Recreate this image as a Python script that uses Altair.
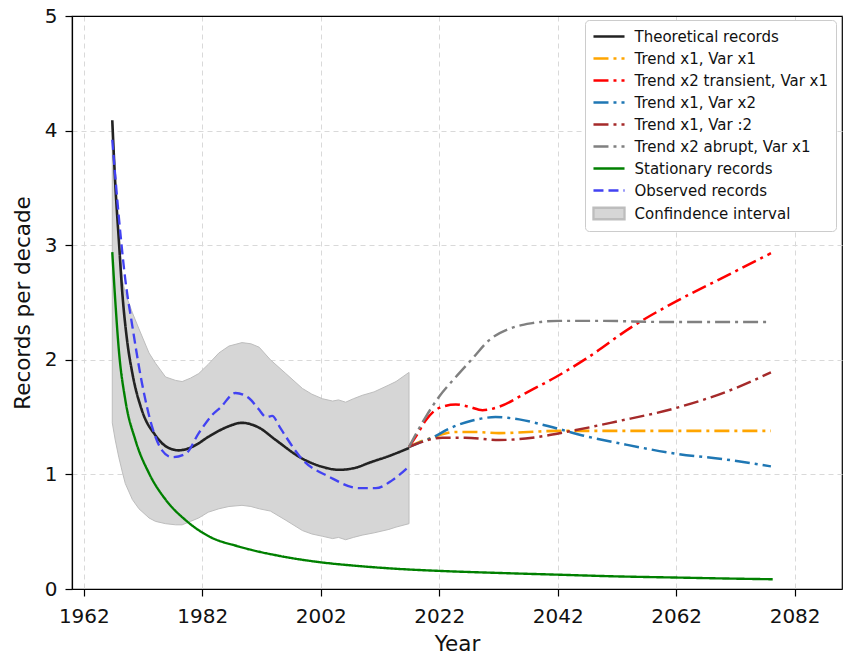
import altair as alt
import pandas as pd

# ---------------- data ----------------
theo_year = [1966.8, 1967.3, 1967.9, 1968.5, 1969.3, 1970.2, 1971.8, 1974.1, 1976.0, 1978.0,
             1980.3, 1983.1, 1986.0, 1988.7, 1991.5, 1994.4, 1998.8, 2002.0, 2005.1, 2008.0,
             2010.1, 2013.5, 2016.9]
theo_val = [4.09, 3.54, 3.05, 2.58, 2.17, 1.88, 1.56, 1.34, 1.24, 1.21,
            1.24, 1.33, 1.41, 1.45, 1.41, 1.30, 1.14, 1.07, 1.04, 1.06,
            1.10, 1.16, 1.23]

obs_year = [1966.8, 1967.9, 1969.0, 1970.2, 1971.8, 1973.5, 1975.2, 1976.9, 1979.2, 1981.4,
            1983.7, 1985.0, 1987.6, 1990.0, 1991.5, 1992.8, 1993.8, 1995.0, 1996.1, 1998.9,
            2003.4, 2008.5, 2011.3, 2014.1, 2016.9]
obs_val = [3.92, 3.25, 2.70, 2.29, 1.80, 1.42, 1.21, 1.15, 1.18, 1.36,
           1.52, 1.58, 1.71, 1.66, 1.57, 1.50, 1.51, 1.42, 1.33, 1.13,
           0.98, 0.88, 0.88, 0.95, 1.07]

ci_year = [1966.8, 1967.3, 1967.9, 1968.5, 1969.0, 1970.2, 1971.3, 1973.0, 1974.1, 1975.8,
           1977.5, 1978.6, 1980.0, 1981.4, 1983.0, 1984.8, 1986.5, 1988.7, 1990.2, 1991.6,
           1993.5, 1996.1, 1998.9, 2000.5, 2002.3, 2004.0, 2005.0, 2006.2, 2007.5, 2009.0,
           2011.0, 2013.5, 2014.7, 2016.9]
ci_upper = [4.05, 3.60, 3.10, 2.70, 2.58, 2.41, 2.27, 2.06, 1.97, 1.85,
            1.82, 1.81, 1.84, 1.88, 1.96, 2.06, 2.12, 2.15, 2.14, 2.11,
            2.00, 1.88, 1.75, 1.70, 1.66, 1.64, 1.65, 1.63, 1.66, 1.69,
            1.72, 1.78, 1.81, 1.89]
ci_lower = [1.45, 1.30, 1.15, 1.02, 0.92, 0.78, 0.70, 0.62, 0.59, 0.57,
            0.56, 0.56, 0.59, 0.62, 0.67, 0.70, 0.72, 0.73, 0.72, 0.70,
            0.68, 0.60, 0.51, 0.48, 0.46, 0.44, 0.45, 0.43, 0.45, 0.47,
            0.49, 0.52, 0.54, 0.57]

stat_year = [1966.8, 1967.3, 1967.9, 1969.0, 1970.7, 1973.0, 1975.8, 1979.2, 1983.1, 1988.2,
             1994.9, 2001.7, 2008.5, 2015.2, 2022.0, 2032.1, 2042.0, 2052.0, 2062.0, 2070.0,
             2078.3]
stat_val = [2.94, 2.52, 2.09, 1.65, 1.30, 1.01, 0.78, 0.60, 0.46, 0.37,
            0.29, 0.235, 0.20, 0.175, 0.158, 0.14, 0.125, 0.11, 0.10, 0.092,
            0.085]

t1v1_year = [2016.9, 2018.5, 2020.8, 2022.5, 2024.8, 2028.0, 2032.1, 2037.0, 2042.2, 2050.0,
             2060.0, 2070.0, 2078.0]
t1v1_val = [1.24, 1.28, 1.32, 1.35, 1.37, 1.37, 1.36, 1.37, 1.38, 1.38,
            1.38, 1.38, 1.38]

t2tr_year = [2016.9, 2018.3, 2019.7, 2022.0, 2024.8, 2027.0, 2029.3, 2032.1, 2036.6, 2041.7,
             2046.8, 2054.6, 2062.0, 2070.4, 2078.0]
t2tr_val = [1.24, 1.35, 1.47, 1.58, 1.61, 1.59, 1.56, 1.59, 1.71, 1.85,
            2.01, 2.29, 2.51, 2.73, 2.93]

t1v2_year = [2016.9, 2018.8, 2020.8, 2023.7, 2027.6, 2031.5, 2035.5, 2040.5, 2046.2, 2053.5,
             2062.0, 2070.4, 2078.0]
t1v2_val = [1.24, 1.28, 1.32, 1.40, 1.47, 1.50, 1.48, 1.42, 1.34, 1.26,
            1.18, 1.13, 1.07]

t1vh_year = [2016.9, 2019.5, 2022.5, 2026.4, 2032.1, 2037.7, 2043.4, 2051.8, 2062.0, 2070.4,
             2078.0]
t1vh_val = [1.24, 1.29, 1.32, 1.32, 1.30, 1.32, 1.37, 1.46, 1.58, 1.72,
            1.89]

t2ab_year = [2016.9, 2019.7, 2022.0, 2024.8, 2027.6, 2030.4, 2033.8, 2037.7, 2042.2, 2049.0,
             2060.0, 2070.0, 2078.0]
t2ab_val = [1.24, 1.50, 1.68, 1.85, 2.01, 2.17, 2.27, 2.32, 2.34, 2.34,
            2.33, 2.33, 2.33]

series_names = ["Theoretical records", "Trend x1, Var x1", "Trend x2 transient, Var x1",
                "Trend x1, Var x2", "Trend x1, Var :2", "Trend x2 abrupt, Var x1",
                "Stationary records", "Observed records", "Confindence interval"]
series_colors = ["#222222", "#FFA500", "#FF0000", "#1f77b4", "#A52A2A", "#808080",
                 "#008000", "#4242F2", "#BDBDBD"]

x_ticks = [1962, 1982, 2002, 2022, 2042, 2062, 2082]
y_ticks = [0, 1, 2, 3, 4, 5]

# ---------------- build tables ----------------
DD = [15, 5, 3, 5]
series_dash = [[1, 0], DD, DD, DD, DD, DD, [1, 0], [10, 5], [1, 0]]
series_width = [2.6, 2.3, 2.3, 2.3, 2.3, 2.3, 2.6, 2.6, 1]

line_sets = [
    (series_names[0], theo_year, theo_val),
    (series_names[1], t1v1_year, t1v1_val),
    (series_names[2], t2tr_year, t2tr_val),
    (series_names[3], t1v2_year, t1v2_val),
    (series_names[4], t1vh_year, t1vh_val),
    (series_names[5], t2ab_year, t2ab_val),
    (series_names[6], stat_year, stat_val),
    (series_names[7], obs_year, obs_val),
]
draw_order = {n: i for i, n in enumerate([series_names[6], series_names[0], series_names[1],
                                          series_names[2], series_names[3], series_names[4],
                                          series_names[5], series_names[7]])}
lines_df = pd.concat(
    [pd.DataFrame({"series": n, "year": ys, "value": vs, "ord": draw_order[n]})
     for n, ys, vs in line_sets],
    ignore_index=True,
)
ci_df = pd.DataFrame({"year": ci_year, "upper": ci_upper, "lower": ci_lower})

# ---------------- chart ----------------
xscale = alt.Scale(domain=[1960, 2090], nice=False, zero=False)
yscale = alt.Scale(domain=[0, 5], nice=False)

xaxis = alt.Axis(values=x_ticks, format="d", title="Year", grid=True)
yaxis = alt.Axis(values=y_ticks, title="Records per decade", grid=True)
top_axis = alt.Axis(orient="top", labels=False, ticks=False, grid=False, title=None,
                    domain=True, domainColor="black", domainWidth=1.2, zindex=1)

band = alt.Chart(ci_df).mark_area(
    color="#D6D6D6", stroke="#BDBDBD", strokeWidth=1, opacity=1
).encode(
    x=alt.X("year:Q", scale=xscale, axis=xaxis),
    y=alt.Y("upper:Q", scale=yscale, axis=yaxis),
    y2="lower:Q",
)

CI = "datum.value === 'Confindence interval'"
sw_expr = f"{CI} ? 1 : 2.5"
shape_expr = f"{CI} ? 'M-1.94,-0.72H1.94V0.72H-1.94Z' : 'M-1.94,0H1.94'"
fill_expr = f"{CI} ? '#D6D6D6' : 'transparent'"

lines = alt.Chart(lines_df).mark_line(interpolate="monotone", strokeCap="butt").encode(
    x=alt.X("year:Q", scale=xscale, axis=top_axis),
    y=alt.Y("value:Q", scale=yscale, axis=yaxis),
    color=alt.Color(
        "series:N",
        scale=alt.Scale(domain=series_names, range=series_colors),
        title=None,
        legend=alt.Legend(
            orient="none", legendX=513, legendY=4,
            symbolType=alt.ExprRef(expr=shape_expr),
            symbolFillColor=alt.ExprRef(expr=fill_expr),
            symbolStrokeWidth=alt.ExprRef(expr=sw_expr),
            symbolSize=256, symbolOffset=7.5,
            labelFontSize=15, labelFont="DejaVu Sans",
            labelColor="#111111", fillColor="white", strokeColor="#CCCCCC",
            cornerRadius=4, padding=7, rowPadding=4, labelOffset=16,
            labelLimit=400, symbolOpacity=1,
        ),
        sort=series_names,
    ),
    strokeDash=alt.StrokeDash(
        "series:N", scale=alt.Scale(domain=series_names, range=series_dash), title=None,
        sort=series_names,
    ),
    strokeWidth=alt.StrokeWidth(
        "series:N", scale=alt.Scale(domain=series_names, range=series_width), legend=None,
    ),
    order=alt.Order("ord:Q"),
)

chart = alt.layer(band, lines).resolve_axis(x="independent").properties(
    width=770,
    height=573,
    autosize=alt.AutoSizeParams(type="none"),
    padding={"left": 72, "top": 16, "right": 2, "bottom": 66},
    background="white",
).configure_view(
    stroke="black", strokeWidth=1.2
).configure_axis(
    labelFont="DejaVu Sans", titleFont="DejaVu Sans",
    labelFontSize=20, titleFontSize=21.5, labelColor="#111111", titleColor="#111111",
    titleFontWeight="normal",
    domainColor="black", domainWidth=1.2, tickColor="black", tickWidth=1.2, tickSize=7,
    gridColor="#D9D9D9", gridDash=[5, 4], gridWidth=1,
).configure_axisX(
    labelPadding=10, titlePadding=7,
).configure_axisY(
    labelPadding=8, titlePadding=10,
)

chart.save("out.html", embed_options={"renderer": "svg", "actions": False})
